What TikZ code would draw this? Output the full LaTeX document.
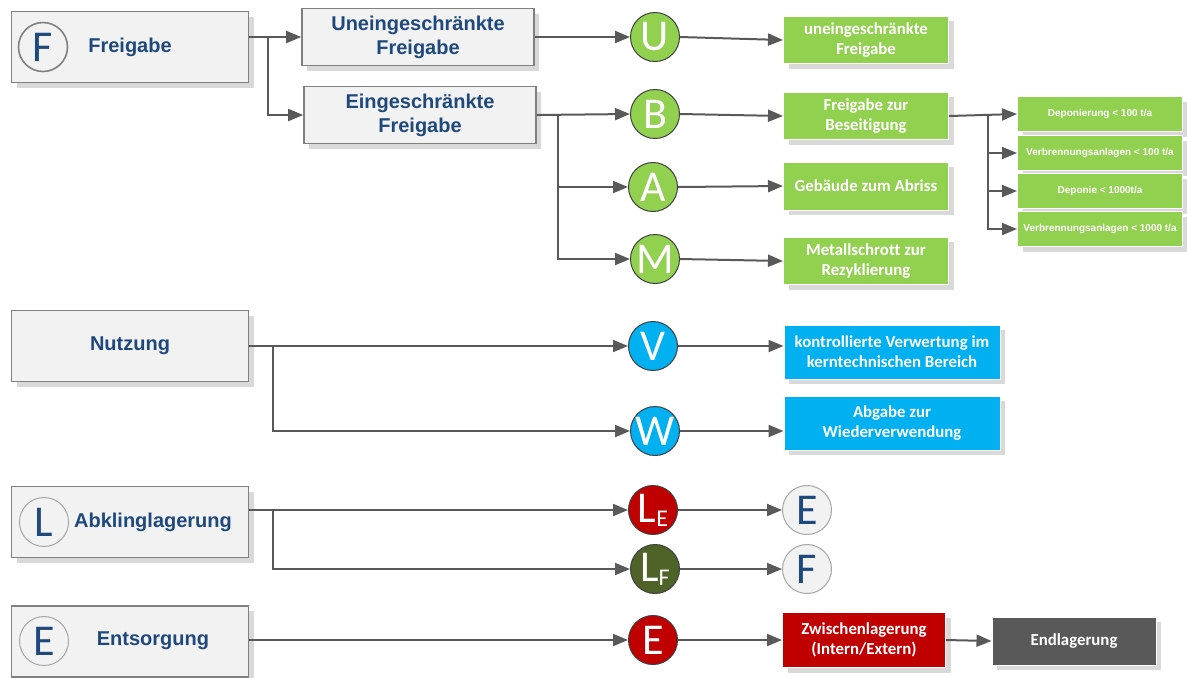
\documentclass[tikz,border=0pt]{standalone}
\usepackage{fontspec}
\setmainfont{Liberation Sans}
\newfontfamily\calibri[Ligatures=NoCommon]{Carlito}
\usepackage{tikz}
\usetikzlibrary{positioning, arrows.meta, shadows}
\definecolor{hdrblue}{HTML}{1F497D}
\definecolor{lgreen}{HTML}{92D050}
\definecolor{lblue}{HTML}{00B0F0}
\definecolor{dred}{HTML}{C00000}
\definecolor{olivegr}{HTML}{4F6228}
\definecolor{lnegray}{HTML}{595959}
\definecolor{boxgray}{HTML}{F2F2F2}

\tikzset{
    shade box/.style={drop shadow={shadow xshift=2.5pt, shadow yshift=-2.5pt, fill=black!15, opacity=1}},
    cat/.style={shade box, draw=black!50, line width=0.8pt, fill=boxgray, minimum width=118.5pt, minimum height=35.5pt,
        font=\fontsize{10}{12}\selectfont\bfseries, text=hdrblue, align=center},
    sub/.style={cat, minimum width=116pt, minimum height=28.5pt},
    dest/.style={shade box, draw=white, line width=0.5pt, minimum width=82.5pt, minimum height=23pt,
        font=\calibri\fontsize{8.4}{10}\selectfont\bfseries, text=white, align=center},
    small/.style={shade box, draw=white, line width=0.5pt, fill=lgreen, minimum width=82.5pt, minimum height=17.5pt,
        font=\fontsize{5}{6}\selectfont\bfseries, text=white, inner sep=1pt},
    tag/.style={circle, draw=black!75, line width=0.5pt, minimum size=24.5pt, inner sep=0pt,
        font=\calibri\fontsize{22}{22}\selectfont, text=white},
    mark circ/.style={tag, draw=black!35, fill=boxgray, text=hdrblue},
    flow/.style={draw=lnegray, line width=1pt, -{Triangle[length=7.5pt, width=6pt]}},
}

\begin{document}
\begin{tikzpicture}[x=0.5pt, y=-0.5pt]
\useasboundingbox (0,0) rectangle (1187,677);

% Freigabe
\node[cat] (frei) at (130,47) {Freigabe};
\node[mark circ, fill=none, draw=black!50, line width=0.8pt] (fcirc) at (43,47) {F};
\node[sub] (unein) at (418,37) {Uneingeschränkte\\Freigabe};
\node[sub] (eing) at (420,115) {Eingeschränkte\\Freigabe};
\node[tag, fill=lgreen] (U) at (655,37) {U};
\node[tag, fill=lgreen] (B) at (655,114) {B};
\node[tag, fill=lgreen] (A) at (653,187) {A};
\node[tag, fill=lgreen] (M) at (655,259) {M};
\node[dest, fill=lgreen] (uefrei) at (866,40) {uneingeschränkte\\Freigabe};
\node[dest, fill=lgreen] (beseit) at (866,116) {Freigabe zur\\Beseitigung};
\node[dest, fill=lgreen, minimum height=24pt] (abriss) at (866,186) {Gebäude zum Abriss};
\node[dest, fill=lgreen] (schrott) at (866,261) {Metallschrott zur\\Rezyklierung};
\node[small] (dep1) at (1100,114) {Deponierung < 100 t/a};
\node[small] (verb1) at (1100,153) {Verbrennungsanlagen < 100 t/a};
\node[small] (dep2) at (1100,191) {Deponie < 1000t/a};
\node[small] (verb2) at (1100,229) {Verbrennungsanlagen < 1000 t/a};

\coordinate (fsplit) at (268,37);
\coordinate (esplit) at (558,115);
\coordinate (bsplit) at (988,115);
\draw[lnegray, line width=1pt] (frei.east |- fsplit) -- (fsplit);
\draw[flow] (fsplit) -- (unein.west |- fsplit);
\draw[flow] (fsplit) |- (eing.west);
\draw[flow] (esplit) |- (A.west);
\draw[flow] (esplit) |- (M.west);
\draw[flow] (bsplit) |- (verb1.west);
\draw[flow] (bsplit) |- (dep2.west);
\draw[flow] (bsplit) |- (verb2.west);
\path
    (unein.east) edge[flow] (U.west)
    (eing.east) edge[flow] (B.west)
    (U.east) edge[flow] (uefrei.west)
    (B.east) edge[flow] (beseit.west)
    (A.east) edge[flow] (abriss.west)
    (M.east) edge[flow] (schrott.west)
    (beseit.east) edge[flow] (dep1.west);

% Nutzung
\node[cat] (nutz) at (130,346) {Nutzung};
\node[tag, fill=lblue] (V) at (653,346) {V};
\node[tag, fill=lblue] (W) at (655,431) {W};
\node[dest, fill=lblue, minimum width=108pt, minimum height=27pt] (verwert) at (892,352) {kontrollierte Verwertung im\\kerntechnischen Bereich};
\node[dest, fill=lblue, minimum width=108pt, minimum height=27pt] (wieder) at (892,423) {Abgabe zur\\Wiederverwendung};
\coordinate (nsplit) at (273,346);
\draw[flow] (nutz.east |- V) -- (V.west);
\draw[flow] (nsplit) |- (W.west);
\path
    (V.east) edge[flow] (verwert.west |- V.east)
    (W.east) edge[flow] (wieder.west |- W.east);

% Abklinglagerung
\node[cat] (abkl) at (130,522) {};
\node[mark circ, fill=none] (lcirc) at (44,522) {L};
\node[font=\fontsize{10}{12}\selectfont\bfseries, text=hdrblue] (abkltxt) at (153,522) {Abklinglagerung};
\node[tag, fill=dred] (LE) at (653,510) {L\raisebox{-2pt}{\fontsize{12}{12}\selectfont E}};
\node[tag, fill=olivegr] (LF) at (655,569) {L\raisebox{-2pt}{\fontsize{12}{12}\selectfont F}};
\node[mark circ] (ecirc) at (807,510) {E};
\node[mark circ] (fcirc2) at (807,569) {F};
\coordinate (lsplit) at (273,510);
\draw[flow] (abkl.east |- LE) -- (LE.west);
\draw[flow] (lsplit) |- (LF.west);
\path
    (LE.east) edge[flow] (ecirc.west)
    (LF.east) edge[flow] (fcirc2.west);

% Entsorgung
\node[cat] (ents) at (130,641.5) {};
\node[mark circ, fill=none] (ecirc3) at (44,641) {E};
\node[font=\fontsize{10}{12}\selectfont\bfseries, text=hdrblue] (entstxt) at (153,641) {Entsorgung};
\node[tag, fill=dred] (E) at (653,640) {E};
\node[dest, fill=dred, minimum width=81.5pt, minimum height=27.5pt] (zwisch) at (864,640) {Zwischenlagerung\\(Intern/Extern)};
\node[dest, fill=lnegray, minimum width=82pt, minimum height=24pt] (endl) at (1074,641) {Endlagerung};
\path
    (ents.east |- E) edge[flow] (E.west)
    (E.east) edge[flow] (zwisch.west)
    (zwisch.east) edge[flow] (endl.west);
\end{tikzpicture}
\end{document}
